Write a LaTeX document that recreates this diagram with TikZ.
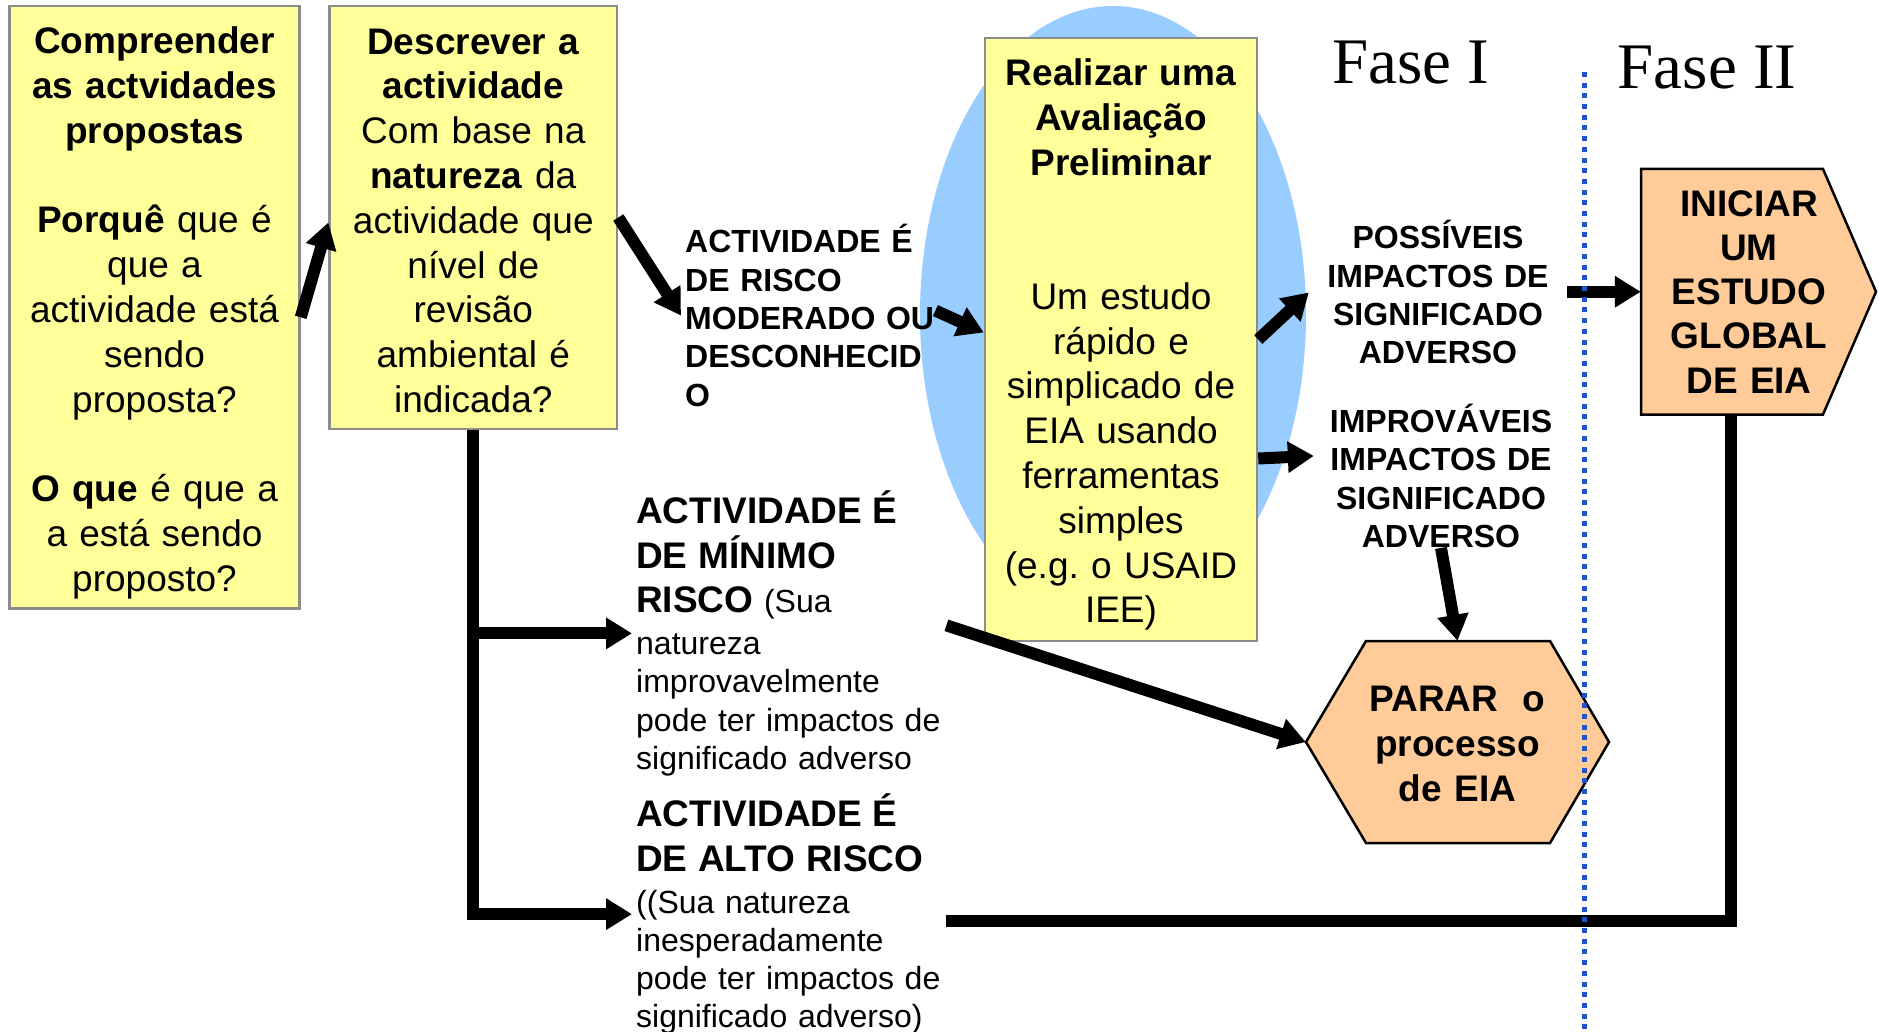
\documentclass[tikz,border=0pt]{standalone}
\usepackage{fontspec}
\setmainfont{Liberation Sans}
\newfontfamily\timesfont{Liberation Serif}
\usetikzlibrary{arrows.meta,calc}
\definecolor{boxyellow}{HTML}{FFFF99}
\definecolor{boxorange}{HTML}{FFCC99}
\definecolor{ellblue}{HTML}{99CCFF}
\definecolor{dotblue}{HTML}{2153CC}
\definecolor{boxgray}{HTML}{8C8C8C}
\begin{document}
\begin{tikzpicture}[x=1pt,y=-1pt,
  yellowbox/.style={draw=boxgray, line width=2.5pt, fill=boxyellow, inner sep=0pt, align=center},
  shapeedge/.style={draw=black, line width=2.5pt, fill=boxorange, line join=miter},
  lbl/.style={inner sep=0pt},
  bigtxt/.style={font=\fontsize{37}{44.8}\selectfont},
  smalltxt/.style={font=\fontsize{32}{38.3}\selectfont\bfseries},
  bodytxt/.style={font=\fontsize{32}{38.3}\selectfont},
  arr/.style={line width=12pt, -{Triangle[length=26pt,width=30pt]}},
  conn/.style={line width=12pt},
  phase/.style={inner sep=0pt, anchor=base west, font=\timesfont\fontsize{65}{78}\selectfont}]

\fill[white] (0,0) rectangle (1879,1032);
\useasboundingbox (0,0) rectangle (1879,1032);

% background ellipse
\fill[ellblue] (1113,314.6) ellipse [x radius=193pt, y radius=308.6pt];

% yellow boxes
\node[yellowbox, bigtxt, minimum width=290pt, minimum height=602.6pt, text width=280pt] (box1) at (154.5,307.3)
 {\rule{0pt}{38pt}\textbf{Compreender}\\ \textbf{as actvidades}\\ \textbf{propostas}\\[44.8pt]
  \textbf{Porquê} que é\\ que a\\ actividade está\\ sendo\\ proposta?\\[44.8pt]
  \textbf{O que} é que a\\ a está sendo\\ proposto?};

\node[yellowbox, bigtxt, minimum width=287.5pt, minimum height=423pt, text width=278pt] (box2) at (473.3,217.5)
 {\rule{0pt}{32pt}\textbf{Descrever a}\\ \textbf{actividade}\\ Com base na\\ \textbf{natureza} da\\
  actividade que\\ nível de\\ revisão\\ ambiental é\\ indicada?};

\node[yellowbox, bigtxt, minimum width=272pt, minimum height=603pt, text width=264pt] (box3) at (1121,339.5)
 {\rule{0pt}{37pt}\textbf{Realizar uma}\\ \textbf{Avaliação}\\ \textbf{Preliminar}\\[89.4pt]
  Um estudo\\ rápido e\\ simplicado de\\ EIA usando\\ ferramentas\\ simples\\ (e.g.\ o USAID\\ IEE)};

% pentagon
\coordinate (iniC) at (1749,291.75);
\draw[shapeedge] ($(iniC)+(-108,-122.75)$) -- ($(iniC)+(74,-122.75)$) -- ($(iniC)+(127,0)$)
  -- ($(iniC)+(74,122.75)$) -- ($(iniC)+(-108,122.75)$) -- cycle;
\node[lbl, font=\fontsize{37}{44.3}\selectfont\bfseries, minimum width=216pt, minimum height=245.5pt, text width=210pt, align=center] (iniciar) at (iniC)
 {INICIAR\\ UM\\ ESTUDO\\ GLOBAL\\ DE EIA};

% hexagon
\coordinate (parC) at (1457.5,742);
\draw[shapeedge] ($(parC)+(-151.5,0)$) -- ($(parC)+(-91.5,-101)$) -- ($(parC)+(92.5,-101)$)
  -- ($(parC)+(151.5,0)$) -- ($(parC)+(92.5,101)$) -- ($(parC)+(-91.5,101)$) -- cycle;
\node[lbl, font=\fontsize{37}{45}\selectfont\bfseries, minimum width=303pt, minimum height=202pt, text width=280pt, align=center] (parar) at (parC)
 {\rule{0pt}{30pt}PARAR\ \ o\\ processo\\ de EIA};

% labels
\node[lbl, smalltxt, anchor=base west, text width=262pt, align=left] (moderado) at (685,253)
 {ACTIVIDADE É\\ DE RISCO\\ MODERADO OU\\ DESCONHECID\\ O};
\node[lbl, smalltxt, anchor=base, text width=258pt, align=center] (possiveis) at (1438,249)
 {POSSÍVEIS\\ IMPACTOS DE\\ SIGNIFICADO\\ ADVERSO};
\node[lbl, smalltxt, anchor=base, text width=254pt, align=center] (improvaveis) at (1441,432.5)
 {IMPROVÁVEIS\\ IMPACTOS DE\\ SIGNIFICADO\\ ADVERSO};
\node[lbl, bodytxt, anchor=base west, text width=310pt, align=left] (minimo) at (636,523.5)
 {{\fontsize{37}{44.5}\selectfont\bfseries ACTIVIDADE É\\ DE MÍNIMO\\ RISCO {\mdseries\fontsize{32}{38.3}\selectfont (Sua}\par}\vspace{3.7pt}
  natureza\\ improvavelmente\\ pode ter impactos de\\ significado adverso};
\node[lbl, bodytxt, anchor=base west, text width=310pt, align=left] (alto) at (636,826.5)
 {{\fontsize{37}{44.5}\selectfont\bfseries ACTIVIDADE É\\ DE ALTO RISCO\par}\vspace{3.7pt}
  ((Sua natureza\\ inesperadamente\\ pode ter impactos de\\ significado adverso)};

\node[phase] (fase1) at (1332,84) {Fase I};
\node[phase] (fase2) at (1617.5,88.6) {Fase II};

% connectors
\draw[arr] ($(box1.east)+(0,10)$) -- ($(box2.west)+(0,5)$);
\draw[arr] (box2.east) -- ($(moderado.west)+(-4,0)$);
\draw[arr] ($(moderado.east)+(-12,-5)$) -- ($(box3.west)+(0,-7)$);
\draw[arr] (box3.east) -- (possiveis.west);
\draw[arr] ($(box3.east)+(0,119)$) -- ($(improvaveis.west)+(0,-20)$);
\draw[arr] (possiveis.east |- iniciar.west) -- (iniciar.west);
\draw[arr] (improvaveis.south) -- (parar.north);
\draw[arr] (box2.south) |- ($(alto.west)+(-4,0)$);
\draw[arr] (box2.south |- minimo.west) -- ($(minimo.west)+(-4,0)$);
\draw[arr] ($(minimo.east)+(0,-8)$) -- (parar.west);
\draw[conn] ($(iniciar.south)+(-18,0)$) |- ($(alto.east)+(0,7)$);

% phase divider
\draw[dotblue, line width=5pt, dash pattern=on 5pt off 5.7pt] (1584,72) -- (1584,1032);
\end{tikzpicture}
\end{document}
